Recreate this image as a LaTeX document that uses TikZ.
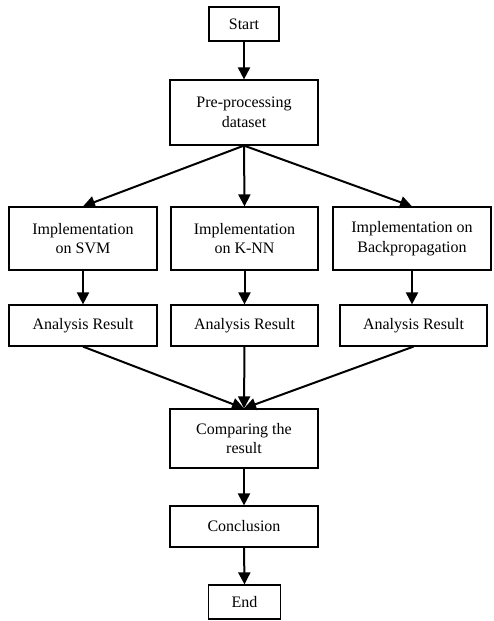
\documentclass[tikz,border=0pt]{standalone}
\usepackage{fontspec}
\setmainfont{Liberation Serif}
\usetikzlibrary{arrows.meta}
\begin{document}
\begin{tikzpicture}[x=1pt,y=-1pt,
  box/.style={draw=black,line width=1.2pt,inner sep=0pt,align=center,
    font=\fontsize{16}{19.5}\selectfont,anchor=center},
  arr/.style={line width=2pt,-{Triangle[length=12pt,width=12pt]}}]
\useasboundingbox (0,0) rectangle (493,621);
\node[box,minimum width=70pt,minimum height=34pt] (start) at (244,24) {Start};
\node[box,minimum width=148pt,minimum height=65pt] (pre) at (244,112.5) {Pre-processing\\dataset};
\node[box,minimum width=148pt,minimum height=63pt] (imp1) at (83,238.5) {Implementation\\on SVM};
\node[box,minimum width=147pt,minimum height=63pt] (imp2) at (244.5,238.5) {Implementation\\on K-NN};
\node[box,minimum width=158pt,minimum height=63pt] (imp3) at (412,238.5) {Implementation on\\Backpropagation};
\node[box,minimum width=148pt,minimum height=41pt] (ana1) at (83,325.5) {Analysis Result};
\node[box,minimum width=147pt,minimum height=41pt] (ana2) at (244.5,325.5) {Analysis Result};
\node[box,minimum width=147pt,minimum height=41pt] (ana3) at (413.5,325.5) {Analysis Result};
\node[box,minimum width=148pt,minimum height=59pt] (comp) at (244,438.5) {Comparing the\\result};
\node[box,minimum width=148pt,minimum height=41pt] (conc) at (244,526.5) {Conclusion};
\node[box,minimum width=72pt,minimum height=34pt] (end) at (244.5,602) {End};
\draw[arr] (start.south) -- (pre.north);
\draw[arr] (pre.south) -- (imp1.north);
\draw[arr] (pre.south) -- (imp2.north);
\draw[arr] (pre.south) -- (imp3.north);
\draw[arr] (imp1.south) -- (ana1.north);
\draw[arr] (imp2.south) -- (ana2.north);
\draw[arr] (imp3.south) -- (imp3.south |- ana3.north);
\draw[arr] (ana1.south) -- (comp.north);
\draw[arr] (ana2.south) -- (comp.north);
\draw[arr] (ana3.south) -- (comp.north);
\draw[arr] (comp.south) -- (conc.north);
\draw[arr] (conc.south) -- (end.north);
\end{tikzpicture}
\end{document}
